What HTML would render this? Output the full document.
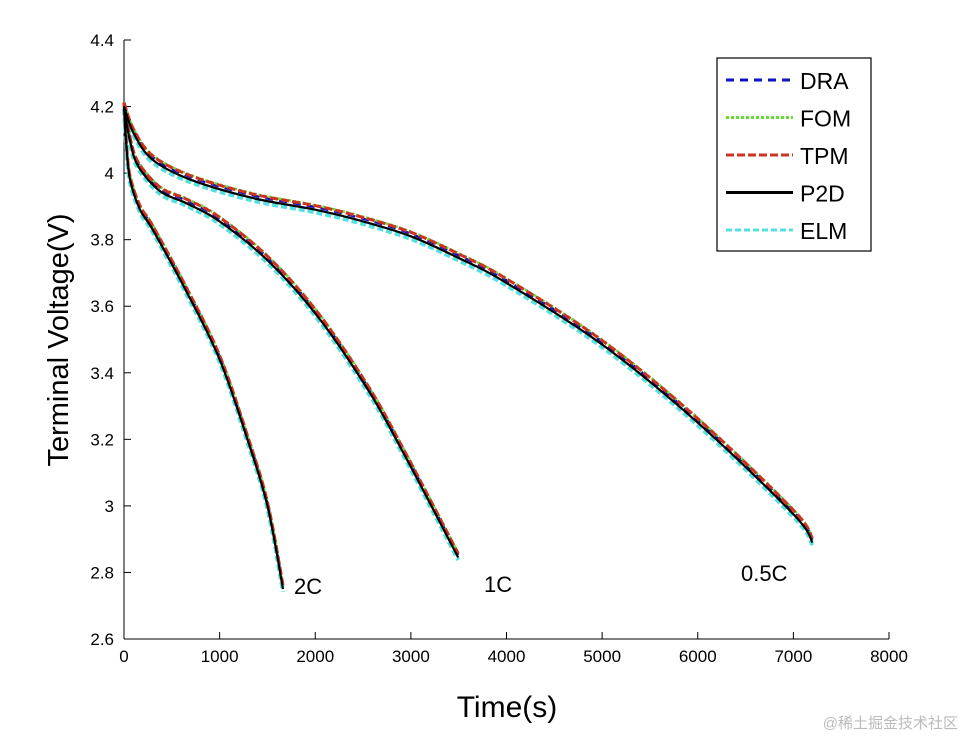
<!DOCTYPE html>
<html><head><meta charset="utf-8"><style>
body{margin:0;background:#fff;width:966px;height:740px;overflow:hidden}
svg text{font-family:"Liberation Sans","Noto Sans CJK SC",sans-serif}
</style></head><body>
<svg width="966" height="740">
<g id="axes"></g><g id="series"></g><g id="legend"></g>
<text x="507" y="717" font-size="30" text-anchor="middle">Time(s)</text>
<text transform="translate(68,340) rotate(-90)" font-size="29" text-anchor="middle">Terminal Voltage(V)</text>
<text x="294" y="594" font-size="22">2C</text>
<text x="484" y="592" font-size="22">1C</text>
<text x="741" y="581" font-size="22">0.5C</text>
<text x="958" y="728" font-size="15" fill="#bbb" text-anchor="end">@稀土掘金技术社区</text>
</svg>
<script>
const xTicks=[0,1000,2000,3000,4000,5000,6000,7000,8000];
const yTicks=[2.6,2.8,3,3.2,3.4,3.6,3.8,4,4.2,4.4];
const t05=[0,100,300,700,1350,2000,2500,3000,3500,4000,5000,6000,7000,7200];
const v05=[4.2,4.12,4.04,3.98,3.925,3.89,3.855,3.81,3.745,3.67,3.485,3.25,2.975,2.89];
const t1=[0,60,150,380,650,1000,1530,2050,2570,2920,3250,3495];
const v1=[4.2,4.1,4.02,3.945,3.91,3.855,3.73,3.56,3.34,3.16,2.98,2.845];
const t2=[0,25,63,167,300,660,1000,1290,1500,1663];
const v2=[4.2,4.08,3.98,3.89,3.83,3.64,3.44,3.20,3.0,2.75];
const models=["DRA","FOM","TPM","P2D","ELM"];
const offsets=[0.008,0.014,0.012,0,-0.008];
const colors=["#1010c0","#66dd33","#cc3322","#000","#55e0e0"];
const dashes=["8,6","3,2","8,3","","6,3"];
const widths=[2.5,2.5,3,2.2,4];
const X=t=>124+t*(889-124)/8000, Y=v=>639-(v-2.6)*(639-40)/1.8;
const NS="http://www.w3.org/2000/svg";
function mk(p,tag,a){const e=document.createElementNS(NS,tag);for(const k in a)e.setAttribute(k,a[k]);p.appendChild(e);return e;}
function smooth(pts){let d='M'+pts[0][0].toFixed(1)+','+pts[0][1].toFixed(1);
 for(let i=0;i<pts.length-1;i++){const p0=pts[Math.max(i-1,0)],p1=pts[i],p2=pts[i+1],p3=pts[Math.min(i+2,pts.length-1)];
  const c1=[p1[0]+(p2[0]-p0[0])/6,p1[1]+(p2[1]-p0[1])/6],c2=[p2[0]-(p3[0]-p1[0])/6,p2[1]-(p3[1]-p1[1])/6];
  d+=' C'+c1.map(v=>v.toFixed(1))+' '+c2.map(v=>v.toFixed(1))+' '+p2.map(v=>v.toFixed(1));}
 return d;}
const ax=document.getElementById('axes');
let l=mk(ax,'line',{x1:124,y1:639,x2:889,y2:639,stroke:'#000'});

l=mk(ax,'line',{x1:124,y1:40,x2:124,y2:639,stroke:'#000'});

xTicks.forEach(t=>{mk(ax,'line',{x1:X(t),y1:639,x2:X(t),y2:632,stroke:'#000'});
 const tx=mk(ax,'text',{x:X(t),y:662,'font-size':17,'text-anchor':'middle'});tx.textContent=t;
 });
yTicks.forEach(v=>{mk(ax,'line',{x1:124,y1:Y(v),x2:131,y2:Y(v),stroke:'#000'});
 const tx=mk(ax,'text',{x:114,y:Y(v)+6,'font-size':17,'text-anchor':'end'});tx.textContent=+v.toFixed(1);
 });
const sg=document.getElementById('series');
const curves=[[t05,v05],[t1,v1],[t2,v2]];
[4,0,1,2,3].forEach(m=>{curves.forEach(([ts,vs],ci)=>{
 const pts=ts.map((t,i)=>[X(t),Y(vs[i]+offsets[m])]);
 const p=mk(sg,'path',{d:smooth(pts),fill:'none',stroke:colors[m],'stroke-width':widths[m],'stroke-dasharray':dashes[m],'stroke-linejoin':'round'});
 
 });});
const lg=document.getElementById('legend');
const box=mk(lg,'rect',{x:717,y:58,width:154,height:193,fill:'#fff',stroke:'#000','stroke-width':1.2});

models.forEach((m,i)=>{const y=80+i*37.5;
 mk(lg,'line',{x1:726,y1:y,x2:793,y2:y,stroke:colors[i],'stroke-width':3,'stroke-dasharray':dashes[i]});
 const tx=mk(lg,'text',{x:800,y:y+9,'font-size':23});tx.textContent=m;
 });
</script>
</body></html>
